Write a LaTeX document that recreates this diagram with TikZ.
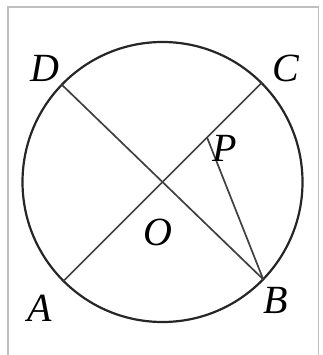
\documentclass[tikz,border=0pt]{standalone}
\usepackage{fontspec}
\setmainfont{Liberation Serif}
\usetikzlibrary{calc}
\tikzset{
  lbl/.style={font=\fontsize{40}{40}\selectfont\itshape, inner sep=0pt, anchor=center},
  seg/.style={draw=black!75, line width=1.7pt},
}
\begin{document}
\begin{tikzpicture}[x=1pt,y=-1pt]
\useasboundingbox (0,0) rectangle (322,355);
\draw[black!25, line width=1.2pt] (8,355) -- (8,7) -- (318.5,7) -- (318.5,355);
\coordinate (O) at (162.5,182);
\coordinate (C) at (261.5,83);
\coordinate (A) at (63.5,281);
\coordinate (D) at (61.8,84.7);
\coordinate (B) at (263.2,279.3);
\coordinate (P) at ($(O)!0.45!(C)$);
\draw[black!85, line width=2.2pt] (O) circle (140);
\draw[seg] (A) -- (C);
\draw[seg] (D) -- (B);
\draw[seg] (P) -- (B);
\node[lbl] (lD) at (45,68) {D};
\node[lbl] (lC) at (286,68) {C};
\node[lbl] (lP) at (225,148) {P};
\node[lbl] (lO) at (158,232) {O};
\node[lbl] (lA) at (40,308) {A};
\node[lbl] (lB) at (276,300) {B};
\end{tikzpicture}
\end{document}
